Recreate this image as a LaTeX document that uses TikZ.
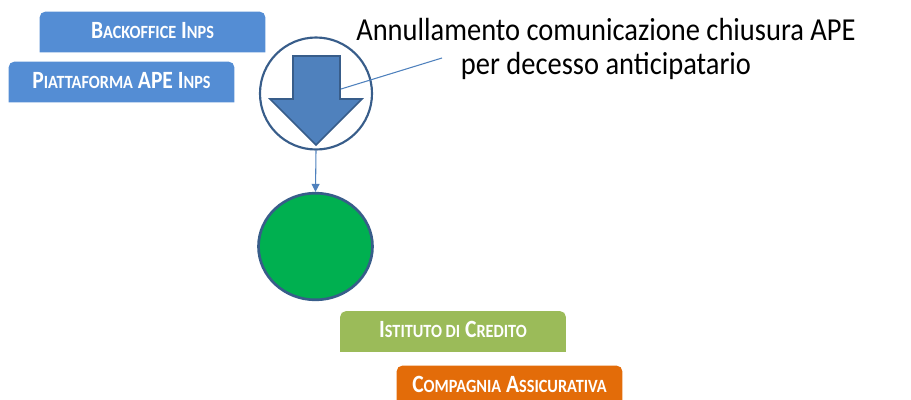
\documentclass[tikz,border=0pt]{standalone}
\usepackage{fontspec}
\setmainfont{Carlito}
\newfontfamily\tabfont[FakeStretch=0.87]{Carlito}
\newfontfamily\titlefont[FakeStretch=0.89]{Carlito}
\usetikzlibrary{arrows.meta, backgrounds, shapes.geometric}

\definecolor{inpsblue}{RGB}{84,141,212}
\definecolor{bancagreen}{RGB}{155,187,89}
\definecolor{assorange}{RGB}{227,108,9}
\definecolor{freccia}{RGB}{79,129,189}
\definecolor{bordo}{RGB}{56,93,138}
\definecolor{esitogreen}{RGB}{0,176,80}

\newcommand{\smc}[1]{{\fontsize{14}{14}\selectfont #1}}

\tikzset{
  tab/.style={minimum width=168.75pt, minimum height=30pt, inner sep=0pt, text depth=2.5pt,
    text=white, font=\tabfont\fontsize{18.6}{18.6}\selectfont\bfseries},
  callout/.style={draw=freccia, line width=0.8pt},
}

\begin{document}
\begin{tikzpicture}[x=0.75pt,y=0.75pt,yscale=-1,xscale=1]
\useasboundingbox (0,0) rectangle (911,400);

% Boxes
\node[tab] (backoffice) at (152.5,32) {B\smc{ACKOFFICE} I\smc{NPS}};
\node[tab] (piattaforma) at (121.5,82) {P\smc{IATTAFORMA} APE I\smc{NPS}};
\node[tab] (istituto) at (453,331.5) {I\smc{STITUTO DI} C\smc{REDITO}};
\node[tab] (compagnia) at (509.5,386) {C\smc{OMPAGNIA} A\smc{SSICURATIVA}};

\begin{scope}[on background layer]
\foreach \n/\c in {backoffice/inpsblue, piattaforma/inpsblue, istituto/bancagreen, compagnia/assorange}
  \fill[\c] (\n.south west) [rounded corners=4pt] -- (\n.north west) -- (\n.north east) [sharp corners] -- (\n.south east) -- cycle;
\end{scope}

% Circle with arrow
\node[circle, draw=bordo, line width=1.6pt, minimum size=84pt, inner sep=0pt] (annulla) at (316,93.5) {};
\draw[fill=freccia, draw=bordo, line width=1.2pt, line join=miter]
  (293,56) -- (340,56) -- (340,99) -- (362,99) -- (316,145) -- (270,99) -- (293,99) -- cycle;

% Green circle
\node[ellipse, draw=bordo, fill=esitogreen, line width=2pt, minimum width=85.5pt, minimum height=80pt, inner sep=0pt] (esito) at (315.5,246.5) {};

% Connector
\draw[draw=freccia, line width=0.8pt, -{Triangle[width=6pt,length=6pt]}] (annulla.south) -- (esito.north);

% Callout
\coordinate (c1) at (341,89);
\coordinate (c2) at (442,58);
\draw[callout] (c1) -- (c2);

% Text Node
\node[anchor=north, align=center, inner sep=0pt, font=\titlefont\fontsize{24}{25.5}\selectfont] (titolo) at (606,18)
  {Annullamento comunicazione chiusura APE\\per decesso anticipatario};

\end{tikzpicture}
\end{document}
